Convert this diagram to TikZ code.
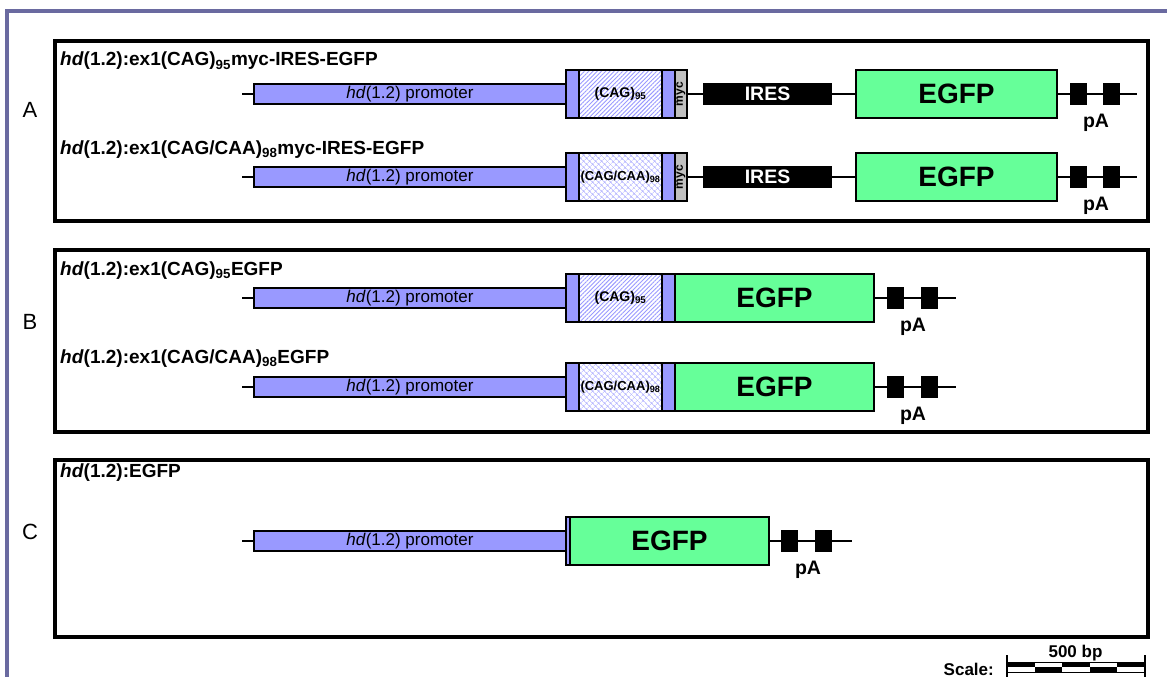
\documentclass[tikz,border=0pt]{standalone}
\usepackage{fontspec}
\setmainfont{Liberation Sans}
\usetikzlibrary{patterns,patterns.meta}
\definecolor{lav}{HTML}{9999FF}
\definecolor{gfp}{HTML}{66FF99}
\definecolor{mycgrey}{HTML}{C0C0C0}
\definecolor{framecol}{HTML}{6A6AA0}
\tikzset{
  part/.style={draw, line width=1.3pt, inner sep=0pt, outer sep=0pt, anchor=west},
  prom/.style={part, fill=lav, minimum height=20pt, minimum width=312pt, font=\fontsize{17}{17}\selectfont},
  exon/.style={part, fill=lav, minimum height=48pt},
  cag/.style={part, preaction={fill=white}, minimum height=48pt, minimum width=83pt, pattern={Lines[angle=45,distance=3pt,line width=0.9pt]}, pattern color=lav, font=\bfseries\fontsize{14}{14}\selectfont},
  caa/.style={part, preaction={fill=white}, minimum height=48pt, minimum width=83pt, pattern={Hatch[angle=45,distance=4pt,line width=0.6pt]}, pattern color=lav!75, font=\bfseries\fontsize{13}{13}\selectfont},
  myc/.style={part, fill=mycgrey, minimum height=48pt, minimum width=12pt, font=\bfseries\fontsize{12}{12}\selectfont},
  ires/.style={part, fill=black, minimum height=20pt, minimum width=127pt, text=white, font=\bfseries\fontsize{19.5}{19.5}\selectfont},
  egfp/.style={part, fill=gfp, minimum height=48pt, font=\bfseries\fontsize{28}{28}\selectfont},
  pa/.style={part, fill=black, minimum height=21pt, minimum width=15pt},
  palabel/.style={font=\bfseries\fontsize{19.5}{19.5}\selectfont, inner sep=0pt},
  backbone/.style={line width=1.5pt},
  title/.style={anchor=base west, inner sep=0pt, font=\bfseries\fontsize{19}{19}\selectfont},
  panel/.style={line width=3.5pt},
  panellabel/.style={font=\fontsize{22}{22}\selectfont, inner sep=0pt},
  scaletext/.style={font=\bfseries\fontsize{17}{17}\selectfont, inner sep=0pt},
}
\newcommand\myconstructA[4]{%
  \coordinate (#1s) at (242,#2);
  \coordinate (#1e) at (1137,#2);
  \draw[backbone] (#1s) -- (#1e);
  \node[prom] (#1prom) at (254,#2) {\textit{hd}(1.2) promoter};
  \node[exon, minimum width=13pt] (#1exL) at (566,#2) {};
  \node[#3] (#1rep) at (579,#2) {#4};
  \node[exon, minimum width=13pt] (#1exR) at (662,#2) {};
  \node[myc] (#1myc) at (675,#2) {\rotatebox{90}{myc}};
  \node[ires] (#1ires) at (704,#2) {IRES};
  \node[egfp, minimum width=201pt] (#1egfp) at (856,#2) {EGFP};
  \node[pa] (#1pa1) at (1071,#2) {};
  \node[pa] (#1pa2) at (1104,#2) {};
  \node[palabel] (#1pal) at (1096,#2+29) {pA};
}
\newcommand\myconstructB[4]{%
  \coordinate (#1s) at (242,#2);
  \coordinate (#1e) at (956,#2);
  \draw[backbone] (#1s) -- (#1e);
  \node[prom] (#1prom) at (254,#2) {\textit{hd}(1.2) promoter};
  \node[exon, minimum width=13pt] (#1exL) at (566,#2) {};
  \node[#3] (#1rep) at (579,#2) {#4};
  \node[exon, minimum width=13pt] (#1exR) at (662,#2) {};
  \node[egfp, minimum width=199pt] (#1egfp) at (675,#2) {EGFP};
  \node[pa] (#1pa1) at (888,#2) {};
  \node[pa] (#1pa2) at (922,#2) {};
  \node[palabel] (#1pal) at (913,#2+29) {pA};
}
\begin{document}
\begin{tikzpicture}[x=1pt,y=-1pt]
\useasboundingbox (0,0) rectangle (1167,677);
% outer frame
\draw[framecol, line width=4pt] (7,700) -- (7,11.3) -- (1190,11.3);
% panels
\draw[panel] (55,41) rectangle (1148,221);
\draw[panel] (55,250) rectangle (1148,432);
\draw[panel] (55,460) rectangle (1148,637);
\node[panellabel] (labA) at (30,110) {A};
\node[panellabel] (labB) at (30,322) {B};
\node[panellabel] (labC) at (30,532) {C};
% titles
\node[title] (tA1) at (60,66) {\textit{hd}(1.2):ex1(CAG)\textsubscript{95}myc-IRES-EGFP};
\node[title] (tA2) at (60,154) {\textit{hd}(1.2):ex1(CAG/CAA)\textsubscript{98}myc-IRES-EGFP};
\node[title] (tB1) at (60,275) {\textit{hd}(1.2):ex1(CAG)\textsubscript{95}EGFP};
\node[title] (tB2) at (60,363) {\textit{hd}(1.2):ex1(CAG/CAA)\textsubscript{98}EGFP};
\node[title] (tC) at (60,477) {\textit{hd}(1.2):EGFP};
% constructs
\myconstructA{a1}{94}{cag}{(CAG)\textsubscript{95}}
\myconstructA{a2}{177}{caa}{(CAG/CAA)\textsubscript{98}}
\myconstructB{b1}{298}{cag}{(CAG)\textsubscript{95}}
\myconstructB{b2}{387}{caa}{(CAG/CAA)\textsubscript{98}}
% construct C
\coordinate (cs) at (242,541);
\coordinate (ce) at (852,541);
\draw[backbone] (cs) -- (ce);
\node[prom] (cprom) at (254,541) {\textit{hd}(1.2) promoter};
\node[exon, minimum width=4pt] (cex) at (566,541) {};
\node[egfp, minimum width=199pt] (cegfp) at (570,541) {EGFP};
\node[pa] (cpa1) at (782,541) {};
\node[pa] (cpa2) at (816,541) {};
\node[palabel] (cpal) at (808,570) {pA};
% scale bar
\node[scaletext, anchor=base east] (scl) at (994,675) {Scale:};
\node[scaletext, anchor=base] (bp) at (1075.5,657) {500 bp};
\draw[line width=0.6pt] (1007,662) rectangle (1145,672);
\foreach \i in {0,2,4} {\fill (1007+27.6*\i,662) rectangle (1007+27.6*\i+27.6,667);}
\foreach \i in {1,3} {\fill (1007+27.6*\i,667) rectangle (1007+27.6*\i+27.6,672);}
\draw[line width=1.3pt] (1007,655) -- (1007,680);
\draw[line width=1.3pt] (1145,655) -- (1145,680);
\end{tikzpicture}
\end{document}
